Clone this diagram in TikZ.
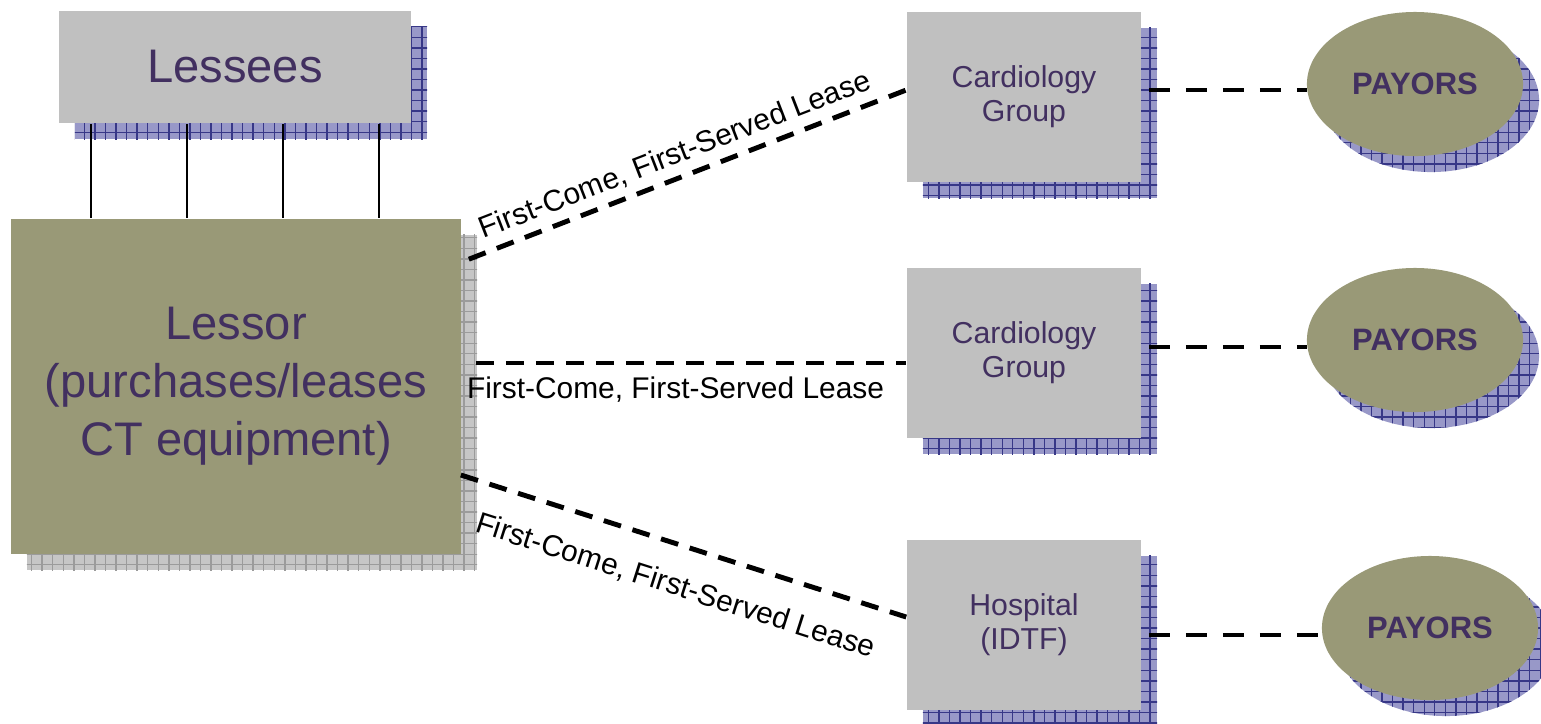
\documentclass[tikz,border=0pt]{standalone}
\usepackage{fontspec}
\setmainfont{Liberation Sans}
\usetikzlibrary{shapes.geometric,patterns,calc}

\definecolor{boxgray}{RGB}{192,192,192}
\definecolor{lessorolive}{RGB}{153,153,119}
\definecolor{inkpurple}{RGB}{66,48,96}
\definecolor{shadeblue}{RGB}{152,152,200}
\definecolor{gridblue}{RGB}{55,55,135}
\definecolor{shadegray}{RGB}{198,198,198}
\definecolor{gridgray}{RGB}{155,155,155}

\tikzset{
  blueshadow/.style={
    preaction={fill=shadeblue, transform canvas={shift={(0.16cm,-0.16cm)}}},
    preaction={pattern=grid, pattern color=gridblue, transform canvas={shift={(0.16cm,-0.16cm)}}}},
  grayshadow/.style={
    preaction={fill=shadegray, transform canvas={shift={(0.16cm,-0.16cm)}}},
    preaction={pattern=grid, pattern color=gridgray, transform canvas={shift={(0.16cm,-0.16cm)}}}},
  party/.style={blueshadow, fill=boxgray, text=inkpurple, inner sep=0pt,
    minimum width=2.34cm, minimum height=1.7cm, align=center,
    font=\fontsize{8.6pt}{9.6pt}\selectfont},
  payor/.style={blueshadow, ellipse, fill=lessorolive, text=inkpurple, inner sep=0pt,
    minimum width=2.16cm, minimum height=1.44cm,
    font=\fontsize{8.8pt}{10pt}\selectfont\bfseries},
  lease/.style={line width=1.4pt, dash pattern=on 0.18cm off 0.12cm},
  payline/.style={line width=1.4pt, dash pattern=on 0.21cm off 0.16cm},
  leaselabel/.style={font=\fontsize{8.5pt}{10pt}\selectfont, text=black, inner sep=1pt}
}

\begin{document}
\begin{tikzpicture}[x=0.01cm,y=-0.01cm]
\useasboundingbox (0,0) rectangle (1541,723);

% lessor and its lessees
\node[blueshadow, fill=boxgray, text=inkpurple, minimum width=3.52cm, minimum height=1.12cm,
  font=\fontsize{13.4pt}{16.5pt}\selectfont] (lessees) at (235,67) {Lessees};
\node[grayshadow, fill=lessorolive, text=inkpurple, minimum width=4.5cm, minimum height=3.35cm,
  align=center, font=\fontsize{13.4pt}{16.5pt}\selectfont] (lessor) at (236,386.5)
  {Lessor\\(purchases/leases\\CT equipment)};

\foreach \x in {91,187,283,379}
  \draw[line width=0.6pt] (\x,0 |- lessees.south) -- (\x,0 |- lessor.north);

% users of the equipment
\node[party] (cardA) at (1024,97) {Cardiology\\Group};
\node[party] (cardB) at (1024,353) {Cardiology\\Group};
\node[party] (hosp) at (1024,625) {Hospital\\(IDTF)};

\node[payor] (payA) at (1415,84) {PAYORS};
\node[payor] (payB) at (1415,340) {PAYORS};
\node[payor] (payC) at (1430,628) {PAYORS};

% leases
\draw[lease] ($(lessor.north east)+(7,41)$) --
  node[leaselabel, above=0.04cm, sloped, pos=0.49] {First-Come, First-Served Lease} ($(cardA.west)+(0,-7)$);
\draw[lease] ($(lessor.east)+(14,-23.5)$) --
  node[leaselabel, below=0.08cm, pos=0.464] {First-Come, First-Served Lease} ($(cardB.west)+(0,10)$);
\draw[lease] ($(lessor.east)+(-1,88.5)$) --
  node[leaselabel, below=0.22cm, sloped, pos=0.51] {First-Come, First-Served Lease} ($(hosp.west)+(0,-8)$);

% billing
\draw[payline] ($(cardA.east)+(7,-7)$) -- ($(payA.west)+(1,6)$);
\draw[payline] ($(cardB.east)+(7,-6)$) -- ($(payB.west)+(1,7)$);
\draw[payline] ($(hosp.east)+(7,10)$) -- ($(payC.west)+(1,7)$);
\end{tikzpicture}
\end{document}
